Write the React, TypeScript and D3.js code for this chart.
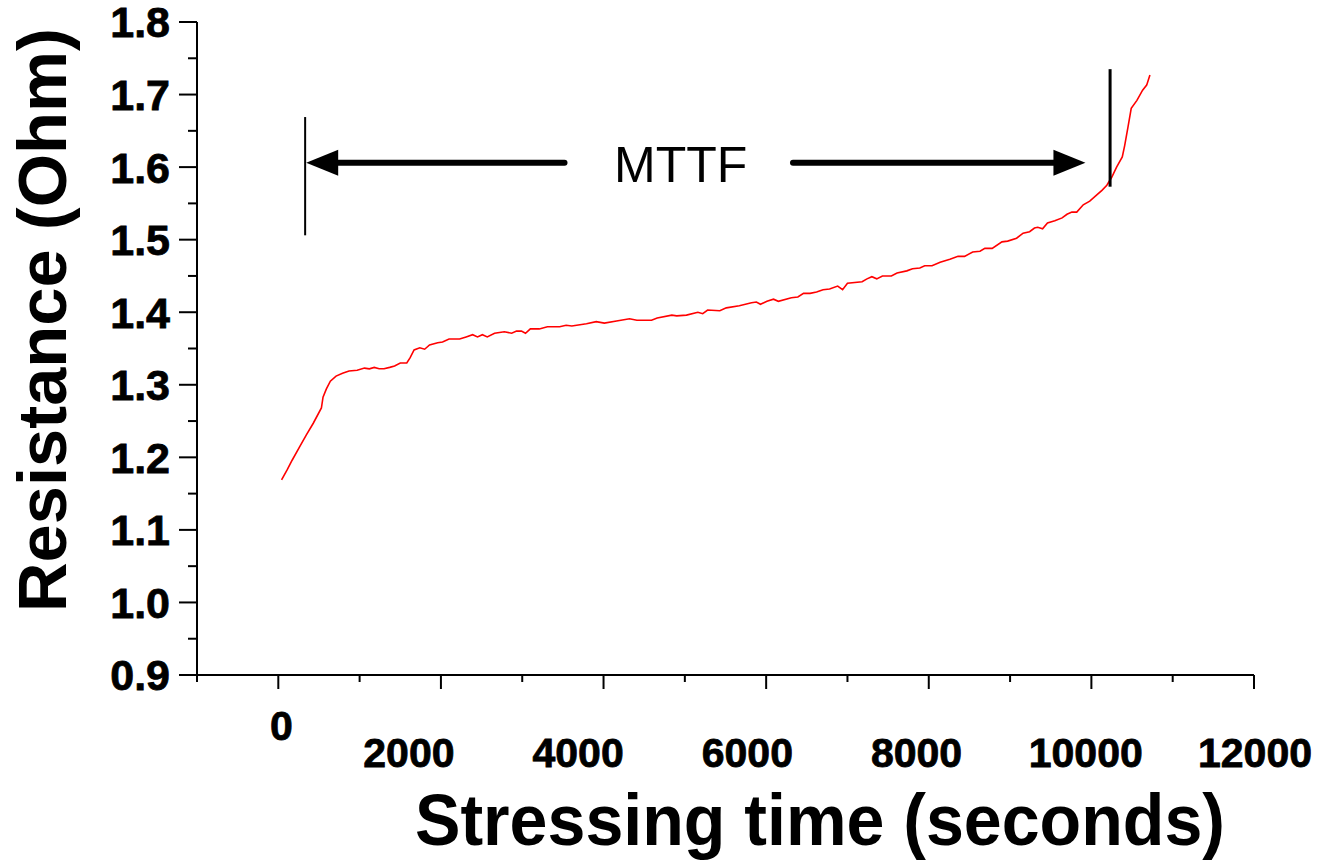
import React from 'react';
import * as d3 from 'd3';

const times = [
  40, 110, 170, 260, 345, 430, 530, 550, 590, 640, 710, 790, 870, 970, 1060, 1120, 1180, 1240,
  1300, 1370, 1430, 1500, 1580, 1620, 1670, 1740, 1800, 1860, 1960, 2020, 2100, 2230, 2310, 2390,
  2450, 2510, 2570, 2660, 2780, 2870, 2930, 2990, 3040, 3100, 3210, 3310, 3460, 3540, 3610, 3790,
  3910, 4010, 4160, 4320, 4410, 4590, 4660, 4840, 4900, 5020, 5160, 5220, 5280, 5430, 5510, 5670,
  5820, 5880, 5930, 6010, 6090, 6150, 6310, 6390, 6460, 6540, 6620, 6700, 6780, 6880, 6940, 7000,
  7180, 7240, 7300, 7360, 7430, 7540, 7610, 7730, 7800, 7890, 7950, 8040, 8140, 8260, 8360, 8440,
  8540, 8630, 8690, 8780, 8900, 8970, 9080, 9160, 9240, 9300, 9340, 9400, 9460, 9550, 9640, 9700,
  9760, 9820, 9900, 9980, 10070, 10130, 10190, 10250, 10310, 10380, 10410, 10450, 10490, 10560,
  10630, 10680, 10720,
];
const resistance = [
  1.169, 1.183, 1.196, 1.214, 1.231, 1.247, 1.268, 1.283, 1.294, 1.305, 1.312, 1.316, 1.319, 1.32,
  1.323, 1.322, 1.324, 1.322, 1.322, 1.324, 1.326, 1.33, 1.33, 1.337, 1.348, 1.351, 1.349, 1.355,
  1.358, 1.359, 1.363, 1.363, 1.366, 1.369, 1.366, 1.369, 1.366, 1.371, 1.373, 1.371, 1.374, 1.374,
  1.371, 1.377, 1.377, 1.38, 1.38, 1.382, 1.381, 1.384, 1.387, 1.385, 1.388, 1.391, 1.389, 1.389,
  1.392, 1.396, 1.395, 1.396, 1.4, 1.398, 1.403, 1.402, 1.406, 1.409, 1.413, 1.414, 1.411, 1.415,
  1.418, 1.415, 1.42, 1.421, 1.426, 1.426, 1.428, 1.431, 1.432, 1.436, 1.431, 1.44, 1.442, 1.446,
  1.449, 1.446, 1.45, 1.45, 1.454, 1.457, 1.46, 1.461, 1.464, 1.464, 1.469, 1.473, 1.477, 1.477,
  1.483, 1.484, 1.488, 1.488, 1.497, 1.498, 1.502, 1.509, 1.511, 1.516, 1.517, 1.515, 1.523, 1.526,
  1.53, 1.535, 1.538, 1.538, 1.548, 1.553, 1.562, 1.568, 1.575, 1.586, 1.6, 1.614, 1.63, 1.655,
  1.681, 1.692, 1.706, 1.713, 1.727,
];

const yTicks = [0.9, 1.0, 1.1, 1.2, 1.3, 1.4, 1.5, 1.6, 1.7, 1.8];
const yMinor = [0.95, 1.05, 1.15, 1.25, 1.35, 1.45, 1.55, 1.65, 1.75];
const xTicks = [0, 2000, 4000, 6000, 8000, 10000, 12000];
const xMinor = [-1000, 1000, 3000, 5000, 7000, 9000, 11000];

// MTTF annotation: start/end markers (s), marker spans (Ohm), arrow level
const mttfStart = 330;
const mttfEnd = 10230;
const startMarker = [1.506, 1.669];
const endMarker = [1.573, 1.735];
const arrowLevel = 1.606;
const arrowShafts = [[3520, 380], [6330, 9890]];

const FONT = '"Liberation Sans", Arial, sans-serif';

export default function App() {
  const W = 1327;
  const H = 866;

  const x = d3.scaleLinear().domain([-1000, 12000]).range([197, 1254]);
  const y = d3.scaleLinear().domain([0.9, 1.8]).range([675, 22]);
  // tick labels sit on a slightly wider spacing than the ticks themselves
  const labelX = d3.scaleLinear().domain([2000, 12000]).range([x(2000) - 32, x(12000) + 1]);

  const pts = times.map((t, i) => [t, resistance[i]] as [number, number]);
  const line = d3.line<[number, number]>()
    .x((d) => x(d[0]))
    .y((d) => y(d[1]));

  const ay = y(arrowLevel);
  const headLen = 32;
  const headHalf = 13;

  return (
    <svg width={W} height={H} style={{ position: 'absolute', left: 0, top: 0, background: '#fff' }}>
      {/* y axis */}
      <line x1={197} x2={197} y1={y(1.8)} y2={y(0.9)} stroke="#000" strokeWidth={2} />
      {yTicks.map((v) => (
        <g key={'yt' + v}>
          <line x1={179} x2={197} y1={y(v)} y2={y(v)} stroke="#000" strokeWidth={2} />
          <text x={170} y={y(v)} dy="0.36em" textAnchor="end" fontFamily={FONT} fontWeight="bold"
            fontSize={43} stroke="#000" strokeWidth={0.8}>{v.toFixed(1)}</text>
        </g>
      ))}
      {yMinor.map((v) => (
        <line key={'ym' + v} x1={188} x2={197} y1={y(v)} y2={y(v)} stroke="#000" strokeWidth={2} />
      ))}

      {/* x axis */}
      <line x1={x(-1000)} x2={x(12000)} y1={675} y2={675} stroke="#000" strokeWidth={2} />
      {xTicks.map((v) => (
        <g key={'xt' + v}>
          <line x1={x(v)} x2={x(v)} y1={675} y2={689} stroke="#000" strokeWidth={2} />
          <text x={v === 0 ? x(v) + 3 : labelX(v)} y={v === 0 ? 740 : 767} textAnchor="middle"
            fontFamily={FONT} fontWeight="bold" fontSize={41} stroke="#000" strokeWidth={0.8}>{v}</text>
        </g>
      ))}
      {xMinor.map((v) => (
        <line key={'xm' + v} x1={x(v)} x2={x(v)} y1={675} y2={682} stroke="#000" strokeWidth={2} />
      ))}

      {/* axis titles */}
      <text x={415} y={845} fontFamily={FONT} fontWeight="bold" fontSize={72}
        textLength={810} lengthAdjust="spacingAndGlyphs">Stressing time (seconds)</text>
      <text transform="translate(66,612) rotate(-90)" fontFamily={FONT} fontWeight="bold" fontSize={68}
        textLength={584} lengthAdjust="spacingAndGlyphs">Resistance (Ohm)</text>

      {/* data */}
      <path d={line(pts) || ''} fill="none" stroke="#ff0000" strokeWidth={1.6} />

      {/* MTTF markers */}
      <line x1={x(mttfStart)} x2={x(mttfStart)} y1={y(startMarker[0])} y2={y(startMarker[1])}
        stroke="#000" strokeWidth={2} />
      <line x1={x(mttfEnd)} x2={x(mttfEnd)} y1={y(endMarker[0])} y2={y(endMarker[1])}
        stroke="#000" strokeWidth={3} />
      {arrowShafts.map(([from, to], i) => {
        const dir = to > from ? 1 : -1;
        const tip = x(to) + dir * 3;
        const base = tip - dir * headLen;
        return (
          <g key={'arr' + i}>
            <line x1={x(from)} x2={base + dir * 2} y1={ay} y2={ay} stroke="#000" strokeWidth={6}
              strokeLinecap="round" />
            <path d={`M${tip},${ay}L${base},${ay - headHalf}L${base},${ay + headHalf}Z`} fill="#000" />
          </g>
        );
      })}
      <text x={x((arrowShafts[0][0] + arrowShafts[1][0]) / 2) + 2} y={y(arrowLevel) + 19}
        textAnchor="middle" fontFamily={FONT} fontSize={50}>MTTF</text>
    </svg>
  );
}
